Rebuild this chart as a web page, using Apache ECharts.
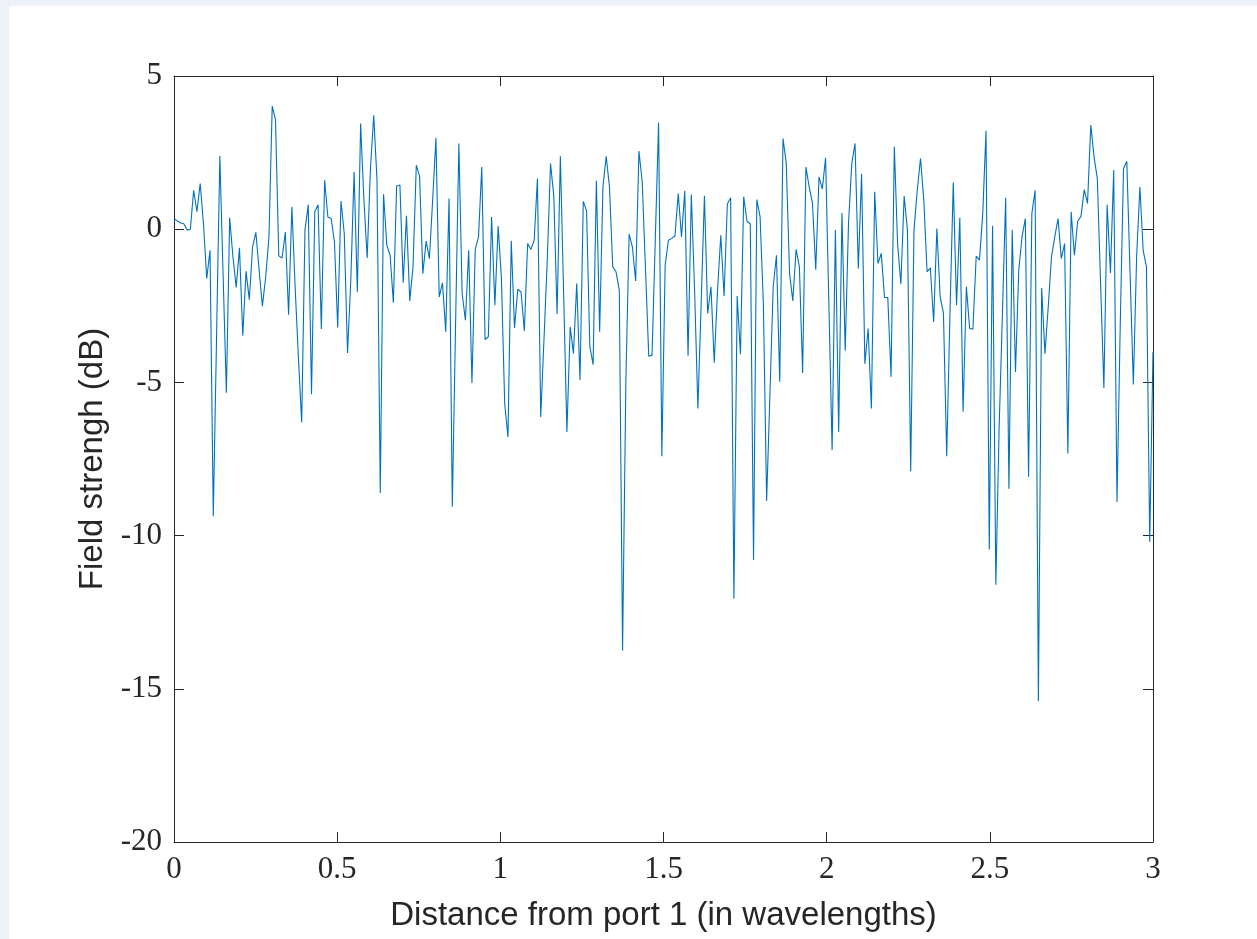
<!DOCTYPE html>
<html>
<head>
<meta charset="utf-8">
<script src="https://cdn.jsdelivr.net/npm/echarts@6/dist/echarts.min.js"></script>
<style>
  html, body { margin: 0; padding: 0; background: #edf1f8; }
  #paper { position: absolute; left: 9px; top: 6px; right: 0; bottom: 0; background: #ffffff; }
  #chart { position: absolute; left: 0; top: 0; width: 1257px; height: 939px; }
</style>
</head>
<body>
<div id="paper"></div>
<div id="chart"></div>
<script>
// Field strength (dB) sampled uniformly along 0..3 wavelengths (300 samples)
const xMin = 0;
const xMax = 3;
const xTicks = [0, 0.5, 1, 1.5, 2, 2.5, 3];
const yTicks = [-20, -15, -10, -5, 0, 5];
const fieldDb = [
  0.35, 0.27, 0.2, 0.18, -0.03, 0.0, 1.27, 0.57, 1.49, 0.18,
  -1.61, -0.69, -9.37, -3.5, 2.39, -1.5, -5.34, 0.37, -0.9, -1.9,
  -0.61, -3.48, -1.37, -2.3, -0.58, -0.1, -1.34, -2.51, -1.56, -0.25,
  4.02, 3.58, -0.87, -0.94, -0.09, -2.79, 0.73, -1.9, -4.2, -6.31,
  -0.03, 0.8, -5.39, 0.57, 0.8, -3.26, 1.6, 0.4, 0.35, -0.41,
  -3.21, 0.92, -0.14, -4.04, -1.66, 1.87, -2.05, 3.45, 0.95, -0.94,
  1.98, 3.72, 1.6, -8.61, 1.14, -0.52, -0.85, -2.4, 1.41, 1.44,
  -1.75, 0.44, -2.34, -1.23, 2.09, 1.73, -1.45, -0.39, -0.96, 0.95,
  2.98, -2.21, -1.75, -3.35, 1.0, -9.06, -3.1, 2.8, -2.1, -2.97,
  -0.69, -5.02, -0.66, -0.25, 2.03, -3.6, -3.51, 0.4, -2.48, 0.1,
  -1.61, -5.69, -6.78, -0.38, -3.22, -1.96, -2.05, -3.32, -0.47, -0.66,
  -0.36, 1.65, -6.13, -3.6, -1.0, 2.14, 1.08, -2.77, 2.38, -2.1,
  -6.62, -3.19, -4.06, -1.77, -4.93, 0.91, 0.6, -3.82, -4.42, 1.58,
  -3.35, 1.38, 2.38, 1.38, -1.23, -1.39, -1.99, -13.75, -5.0, -0.16,
  -0.58, -1.69, 2.55, 1.55, -1.3, -4.15, -4.11, -0.3, 3.47, -7.41,
  -1.18, -0.36, -0.3, -0.22, 1.16, -0.25, 1.25, -4.13, 1.13, -1.99,
  -5.85, -2.43, 1.09, -2.75, -1.88, -4.36, -1.99, -0.2, -2.18, 0.82,
  1.03, -12.05, -2.18, -4.08, 1.06, 0.26, 0.18, -10.8, 0.97, 0.4,
  -2.43, -8.87, -5.4, -1.88, -0.85, -4.98, 2.96, 2.14, -1.45, -2.34,
  -0.66, -1.23, -4.69, 2.03, 1.38, 0.84, -1.32, 1.71, 1.31, 2.33,
  -2.4, -7.21, -0.03, -6.62, 0.53, -3.97, 0.18, 2.14, 2.8, -1.28,
  1.8, -4.39, -3.24, -5.85, 1.22, -1.12, -0.79, -2.23, -2.23, -4.82,
  2.69, -0.5, -1.79, 1.08, -0.03, -7.9, -0.03, 1.27, 2.31, 0.95,
  -1.39, -1.26, -3.03, 0.02, -2.21, -2.75, -7.41, -2.7, 1.52, -2.48,
  0.37, -5.96, -1.88, -3.24, -3.26, -0.88, -1.01, 0.5, 3.21, -10.45,
  0.11, -11.6, -6.5, -2.8, 1.03, -8.47, -0.03, -4.66, -1.34, -0.25,
  0.35, -8.08, 0.51, 1.27, -15.4, -1.92, -4.06, -2.54, -0.9, -0.25,
  0.35, -0.96, -0.47, -7.32, 0.57, -0.85, 0.26, 0.42, 1.29, 0.84,
  3.4, 2.36, 1.65, -1.8, -5.18, 0.8, -1.43, 1.93, -8.9, -3.1,
  1.98, 2.22, -1.45, -5.07, -0.9, 1.38, -0.69, -1.23, -10.2, -4.0
];

const xStep = (xMax - xMin) / (fieldDb.length - 1);
const lineData = fieldDb.map((v, i) => [xMin + i * xStep, v]);

const axisColor = '#262626';
const tickFont = { fontFamily: 'Liberation Serif', fontSize: 31, color: '#262626' };
const nameFont = { fontFamily: 'Liberation Sans', fontSize: 33, color: '#262626' };

const mirrorAxis = (extra) => Object.assign({
  axisLine: { show: true, onZero: false, lineStyle: { color: axisColor, width: 1 } },
  axisTick: { show: true, inside: true, length: 10, lineStyle: { color: axisColor } },
  axisLabel: { show: false }, splitLine: { show: false }
}, extra);

const chart = echarts.init(document.getElementById('chart'), null, { renderer: 'canvas' });
chart.setOption({
  backgroundColor: 'transparent',
  animation: false,
  grid: { left: 174, top: 76, width: 979, height: 766, containLabel: false },
  xAxis: [
    {
      type: 'value', min: xMin, max: xMax, interval: 0.5, position: 'bottom',
      name: 'Distance from port 1 (in wavelengths)', nameLocation: 'middle', nameGap: 57,
      nameTextStyle: nameFont,
      axisLine: { show: true, onZero: false, lineStyle: { color: axisColor, width: 1 } },
      axisTick: { show: true, inside: true, length: 10, lineStyle: { color: axisColor } },
      axisLabel: Object.assign({ margin: 12, formatter: v => String(v) }, tickFont),
      splitLine: { show: false }
    },
    mirrorAxis({ type: 'value', min: xMin, max: xMax, interval: 0.5, position: 'top' })
  ],
  yAxis: [
    {
      type: 'value', min: yTicks[0], max: yTicks[yTicks.length - 1], interval: 5, position: 'left',
      name: 'Field strengh (dB)', nameLocation: 'middle', nameGap: 59, nameRotate: 90,
      nameTextStyle: nameFont,
      axisLine: { show: true, onZero: false, lineStyle: { color: axisColor, width: 1 } },
      axisTick: { show: true, inside: true, length: 10, lineStyle: { color: axisColor } },
      axisLabel: Object.assign({ margin: 12 }, tickFont),
      splitLine: { show: false }
    },
    mirrorAxis({ type: 'value', min: yTicks[0], max: yTicks[yTicks.length - 1], interval: 5, position: 'right' })
  ],
  series: [
    {
      type: 'line', data: lineData, xAxisIndex: 0, yAxisIndex: 0,
      showSymbol: false, symbol: 'none',
      lineStyle: { color: '#0072BD', width: 1.1 },
      clip: true
    }
  ]
});
</script>
</body>
</html>
